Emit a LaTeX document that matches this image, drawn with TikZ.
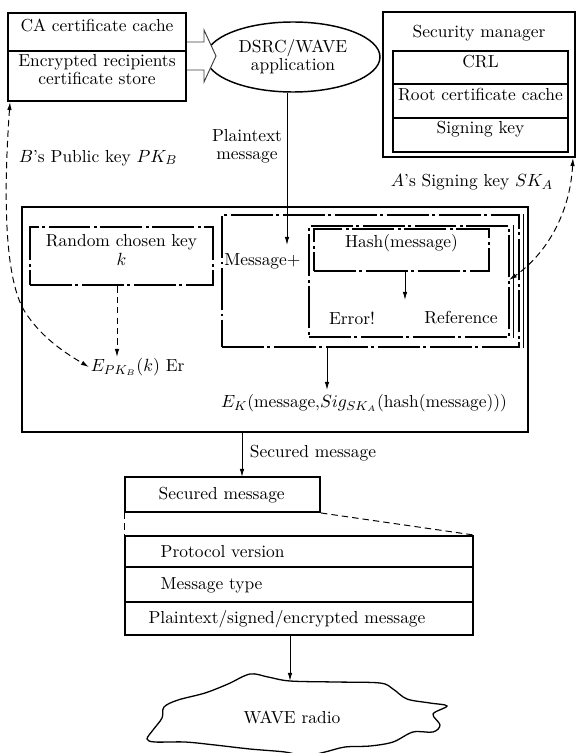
\documentclass[tikz,border=0pt]{standalone}
\usetikzlibrary{fit,arrows.meta,shapes.geometric}
\def\pxu{0.62pt}
\tikzset{
 every node/.style={font=\fontsize{10.8}{11.2}\selectfont},
 thickbox/.style={draw, line width=1.2pt, inner sep=0pt, align=center},
 dashdotbox/.style={draw, line width=1.3pt, inner sep=0pt, align=center, dash pattern=on 26pt off 2.2pt on 1.8pt off 2.2pt},
 conn/.style={line width=0.6pt, arrows={-Latex[length=5pt,width=2.8pt]}},
 dconn/.style={line width=0.6pt, dash pattern=on 4pt off 2.5pt, arrows={Latex[length=5pt,width=2.8pt]-Latex[length=5pt,width=2.8pt]}},
 dline/.style={line width=0.6pt, dash pattern=on 4pt off 2.5pt},
 lbl/.style={inner sep=1pt, align=center},
}
\begin{document}
\begin{tikzpicture}[x=\pxu, y=-\pxu]
\useasboundingbox[fill=white] (0,0) rectangle (576,753);

% application ellipse and block arrow
\node[ellipse, draw, line width=0.9pt, minimum width=174*\pxu, minimum height=70*\pxu, inner sep=0pt, align=center] (app) at (293,57) {DSRC/WAVE\\application};
\draw[fill=white, draw=black!75, line width=0.6pt] (186,42) -- (204,42) -- (204,30) -- (216,56) -- (204,82) -- (204,70) -- (186,70);

% left stores
\node[thickbox, fit={(8,13) (186,51)}] (ca) {CA certificate cache};
\node[thickbox, fit={(8,51) (186,101)}] (enc) {Encrypted recipients\\certificate store};

% plaintext
\coordinate (pt) at (287,245);
\draw[conn] (app.south -| pt) -- (pt);
\node[lbl] (ptl) at (247,146) {Plaintext\\message};
\node[lbl] (bpk) at (98,158) {$B$'s Public key $PK_B$};

% security manager
\node[thickbox, fit={(383,12) (575,157)}] (sm) {};
\node (smt) at (479,33) {Security manager};
\node[thickbox, fit={(393,51) (568,84)}] (crl) {CRL};
\node[thickbox, fit={(393,84) (568,118)}] (root) {Root certificate cache};
\node[thickbox, fit={(393,118) (568,152)}] (sign) {Signing key};
\node[lbl] (ask) at (472,182) {$A$'s Signing key $SK_A$};

% big processing box
\node[thickbox, fit={(22,207) (528,432)}] (big) {};
\node[dashdotbox, fit={(30,227) (213,285)}] (rand) {Random chosen key\\$k$};
\coordinate (ea) at (117,357);
\draw[conn, dash pattern=on 4pt off 2.5pt] (rand.south -| ea) -- (ea);
\node[anchor=west, inner sep=1pt] (epk) at (89,367) {$E_{PK_B}(k)$ Er};
\draw[dconn] ([xshift=3*\pxu]enc.south west) .. controls (3,200) and (5,280) .. (25,312) .. controls (40,335) and (60,350) .. (epk.west);

\node[dashdotbox, fit={(222,215) (519,347)}] (msg) {};
\draw[line width=1pt] ([xshift=3.5*\pxu]msg.north east) -- ([xshift=3.5*\pxu]msg.south east);
\node[anchor=west, inner sep=0pt] (msgt) at (224,261) {Message+};
\node[dashdotbox, fit={(309,226) (509,337)}] (cont) {};
\draw[line width=1pt] ([xshift=3.5*\pxu]cont.north east) -- ([xshift=3.5*\pxu]cont.south east);
\node[dashdotbox, fit={(314,229) (489,271)}] (hash) {Hash(message)};
\coordinate (ha) at (405,300);
\draw[conn] (hash.south -| ha) -- (ha);
\node (err) at (352,318) {Error!};
\node (ref) at (461,318) {Reference};
\coordinate (rc) at (509,280);
\draw[dconn] ([xshift=-3*\pxu]sm.south east) .. controls (570,215) and (545,255) .. (rc);

\coordinate (ek) at (327,390);
\draw[conn] (msg.south -| ek) -- (ek);
\node (ekt) at (364,403) {$E_K$(message,$Sig_{SK_A}$(hash(message)))};

% secured message
\coordinate (sa) at (242,477);
\draw[conn] (big.south -| sa) -- (sa);
\node (sml) at (313,453) {Secured message};
\node[thickbox, fit={(125,477) (320,512)}] (sec) {};
\node[anchor=west] (sect) at (153,495) {Secured message};

\node[thickbox, fit={(125,536) (473,567)}] (pv) {};
\node[anchor=west] (pvt) at (155,552) {Protocol version};
\node[thickbox, fit={(125,567) (473,602)}] (mt) {};
\node[anchor=west] (mtt) at (155,585) {Message type};
\node[thickbox, fit={(125,602) (473,635)}] (pm) {};
\node (pmt) at (287,619) {Plaintext/signed/encrypted message};
\draw[dline] (sec.south east) -- (pv.north east);
\draw[dline] (sec.south west) -- (pv.north west);

% WAVE radio cloud
\coordinate (wa) at (290,681);
\draw[conn] (pm.south -| wa) -- (wa);
\draw[line width=0.8pt] plot[smooth cycle, tension=0.55] coordinates {
 (290,681) (335,682) (380,683) (393,689) (407,699) (430,703) (447,706) (433,714) (440,725) (433,732) (413,732) (393,742) (370,746) (345,747) (325,752) (305,756) (285,752) (250,749) (215,745) (185,742) (155,742) (147,739) (153,730) (162,718) (164,707) (178,700) (205,693) (228,684) (250,674) (268,677)};
\node (wave) at (292,717) {WAVE radio};
\end{tikzpicture}
\end{document}
